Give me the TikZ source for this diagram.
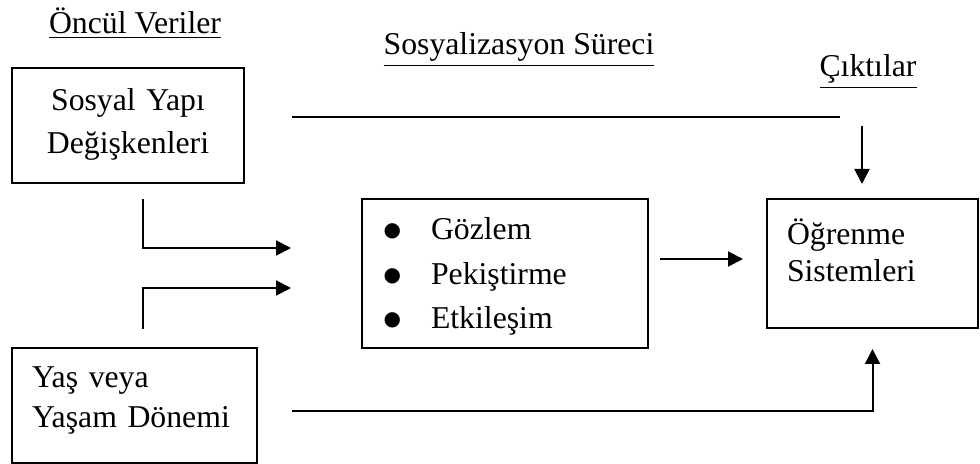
\documentclass[tikz,border=0pt]{standalone}
\usepackage{fontspec}
\setmainfont{Liberation Serif}
\newfontfamily\symfont{DejaVu Sans}
\usepackage{tikz}
\usetikzlibrary{arrows.meta,positioning}
\definecolor{FlowBlack}{HTML}{000000}
\definecolor{FlowWhite}{HTML}{ffffff}
\newcommand{\listdot}{\makebox[19pt][l]{\raisebox{1.2pt}{\symfont\fontsize{8}{8}\selectfont ●}}}
\tikzset{
    % Base box style
    basenode/.style={
        draw=FlowBlack,
        fill=FlowWhite,
        line width=0.8pt,
        inner ysep=0pt,
        font=\fontsize{12.7}{14.8}\selectfont
    },
    % Input boxes on the left
    inputnode/.style={
        basenode,
        text depth=28.8pt
    },
    % Process box in the middle
    processnode/.style={
        basenode,
        align=left,
        text width=97.2pt,
        inner xsep=8.6pt,
        text height=16.4pt,
        text depth=43.2pt,
        font=\fontsize{12.7}{17.8}\selectfont
    },
    % Output box on the right
    outputnode/.style={
        basenode,
        align=left,
        text width=68.4pt,
        inner xsep=8pt,
        text height=18.4pt,
        text depth=33.2pt
    },
    % Underlined column heading
    headnode/.style={
        anchor=base,
        inner sep=0pt,
        font=\fontsize{12.7}{15}\selectfont
    },
    % Arrow styles (straight lines only)
    myarrow/.style={
        -{Triangle[length=6pt,width=6pt]},
        line width=0.8pt,
        draw=FlowBlack
    },
    % Plain line
    myline/.style={
        line width=0.8pt,
        draw=FlowBlack
    }
}

\begin{document}
\begin{tikzpicture}[x=0.4pt, y=-0.4pt]
    \useasboundingbox (0,0) rectangle (980,464);

    % column headings
    \node[headnode] (hinput) at (135,34) {\underline{Öncül Veriler}};
    \node[headnode] (hprocess) at (519,55) {\underline{Sosyalizasyon Süreci}};
    \node[headnode] (houtput) at (868,77) {\underline{Çıktılar}};

    % boxes
    \node[inputnode, minimum width=92.8pt, align=center, text width=80pt, text height=17.2pt,
          font=\fontsize{12.7}{17.2}\selectfont] (social) at (128,125.5) {Sosyal Yapı\\Değişkenleri};
    \node[inputnode, minimum width=98pt, align=left, text width=82pt, inner xsep=8pt, text height=16pt,
          text depth=30pt, font=\fontsize{12.7}{16}\selectfont] (age) at (134.5,405.5) {Yaş veya\\Yaşam Dönemi};
    \node[processnode] (process) at (505,273.5) {\listdot Gözlem\\\listdot Pekiştirme\\\listdot Etkileşim};
    \node[outputnode] (learn) at (872.5,263.5) {Öğrenme\\Sistemleri};

    % free ends of the connectors
    \coordinate (socialout) at (143,199);
    \coordinate (socialin) at (291,248);
    \coordinate (ageout) at (143,329);
    \coordinate (agein) at (291,288);
    \coordinate (topstart) at (292,117);
    \coordinate (topend) at (840,117);
    \coordinate (downstart) at (862,126);
    \coordinate (downend) at (862,184);
    \coordinate (bottomstart) at (292,411);

    % connectors
    \draw[myarrow] (socialout) |- (socialin);
    \draw[myarrow] (ageout) |- (agein);
    \draw[myarrow, shorten <=4.4pt, shorten >=9.2pt] (process.east |- 0,259) -- (learn.west |- 0,259);
    \draw[myline] (topstart) -- (topend);
    \draw[myarrow] (downstart) -- (downend);
    \draw[myarrow, shorten >=8pt] (bottomstart) -| (learn.south);
\end{tikzpicture}
\end{document}
